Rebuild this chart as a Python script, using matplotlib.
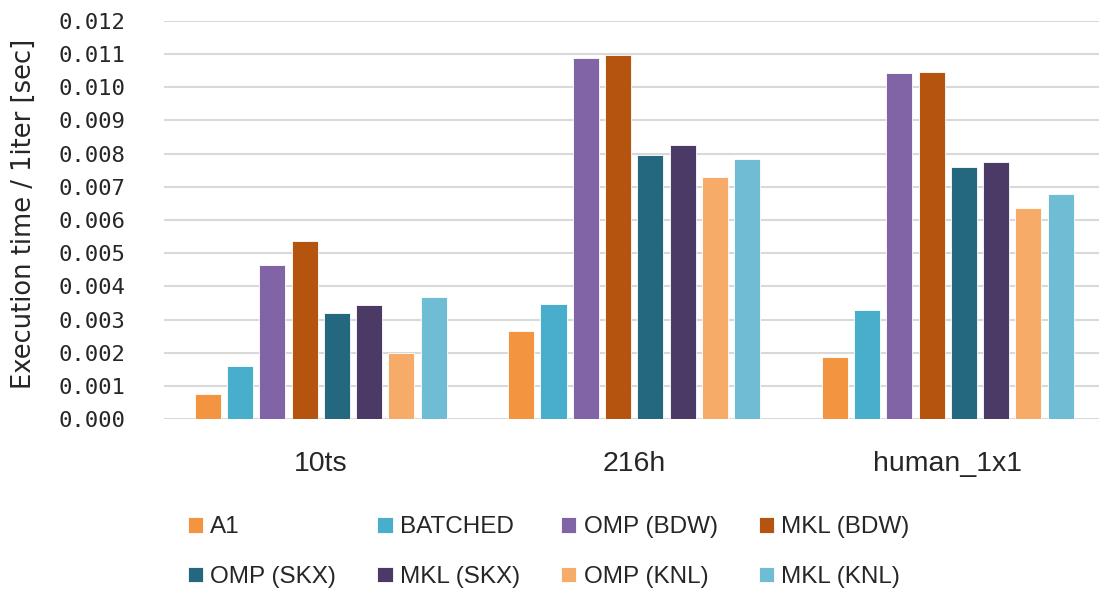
import matplotlib.pyplot as plt
import numpy as np

categories = ['10ts', '216h', 'human_1x1']
series = ['A1', 'BATCHED', 'OMP (BDW)', 'MKL (BDW)', 'OMP (SKX)', 'MKL (SKX)', 'OMP (KNL)', 'MKL (KNL)']
colors = ['#F39440', '#48AECB', '#8064A5', '#B5540F', '#23687E', '#4B3A66', '#F6AC68', '#6FBCD5']

a1 = [0.00077, 0.00265, 0.00188]
batched = [0.00160, 0.00348, 0.00328]
omp_bdw = [0.00466, 0.01088, 0.01042]
mkl_bdw = [0.00537, 0.01097, 0.01047]
omp_skx = [0.00321, 0.00797, 0.00761]
mkl_skx = [0.00344, 0.00825, 0.00776]
omp_knl = [0.00200, 0.00729, 0.00636]
mkl_knl = [0.00368, 0.00785, 0.00677]
values = [a1, batched, omp_bdw, mkl_bdw, omp_skx, mkl_skx, omp_knl, mkl_knl]

text_color = '#262626'

fig = plt.figure(figsize=(10.99, 5.92), dpi=100)
ax = fig.add_axes([0.1492, 0.2917, 0.8558, 0.6733])

x = np.arange(len(categories))
pitch = 0.103
width = 0.083
handles = []
for i, (name, vals) in enumerate(zip(series, values)):
    off = (i - 3.5) * pitch
    b = ax.bar(x + off, vals, width, color=colors[i], edgecolor='white', linewidth=0.6,
               label=name, zorder=3)
    handles.append(b)

yt = np.arange(0, 0.0121, 0.001)
ax.set_xlim(-0.5, 2.5)
ax.set_ylim(0, 0.012)
ax.set_yticks(yt)
ax.set_yticklabels([f'{v:.3f}' for v in yt], family='DejaVu Sans Mono', fontsize=16, color=text_color)
ax.set_xticks(x)
ax.set_xticklabels(categories, family='Liberation Sans', fontsize=20.5, color=text_color)
ax.tick_params(axis='both', length=0)
ax.tick_params(axis='x', pad=23)
ax.tick_params(axis='y', pad=28)
ax.grid(axis='y', color='#D9D9D9', linewidth=1.5, zorder=0)
for s in ax.spines.values():
    s.set_visible(False)
ax.set_ylabel('Execution time / 1iter [sec]', fontsize=18.5, color=text_color)
ax.yaxis.set_label_coords(-0.135, 0.515)

# legend fills column-wise, reorder so rows read left to right
order = [0, 4, 1, 5, 2, 6, 3, 7]
fig.legend([handles[i] for i in order], [series[i] for i in order], ncol=4,
           loc='upper left', bbox_to_anchor=(0.171, 0.128), frameon=False,
           prop={'family': 'Liberation Sans', 'size': 17.5}, labelcolor=text_color,
           handlelength=0.62, handleheight=0.62, handletextpad=0.3,
           columnspacing=1.7, labelspacing=1.15, borderpad=0, borderaxespad=0)

plt.savefig('out.png', dpi=100)
